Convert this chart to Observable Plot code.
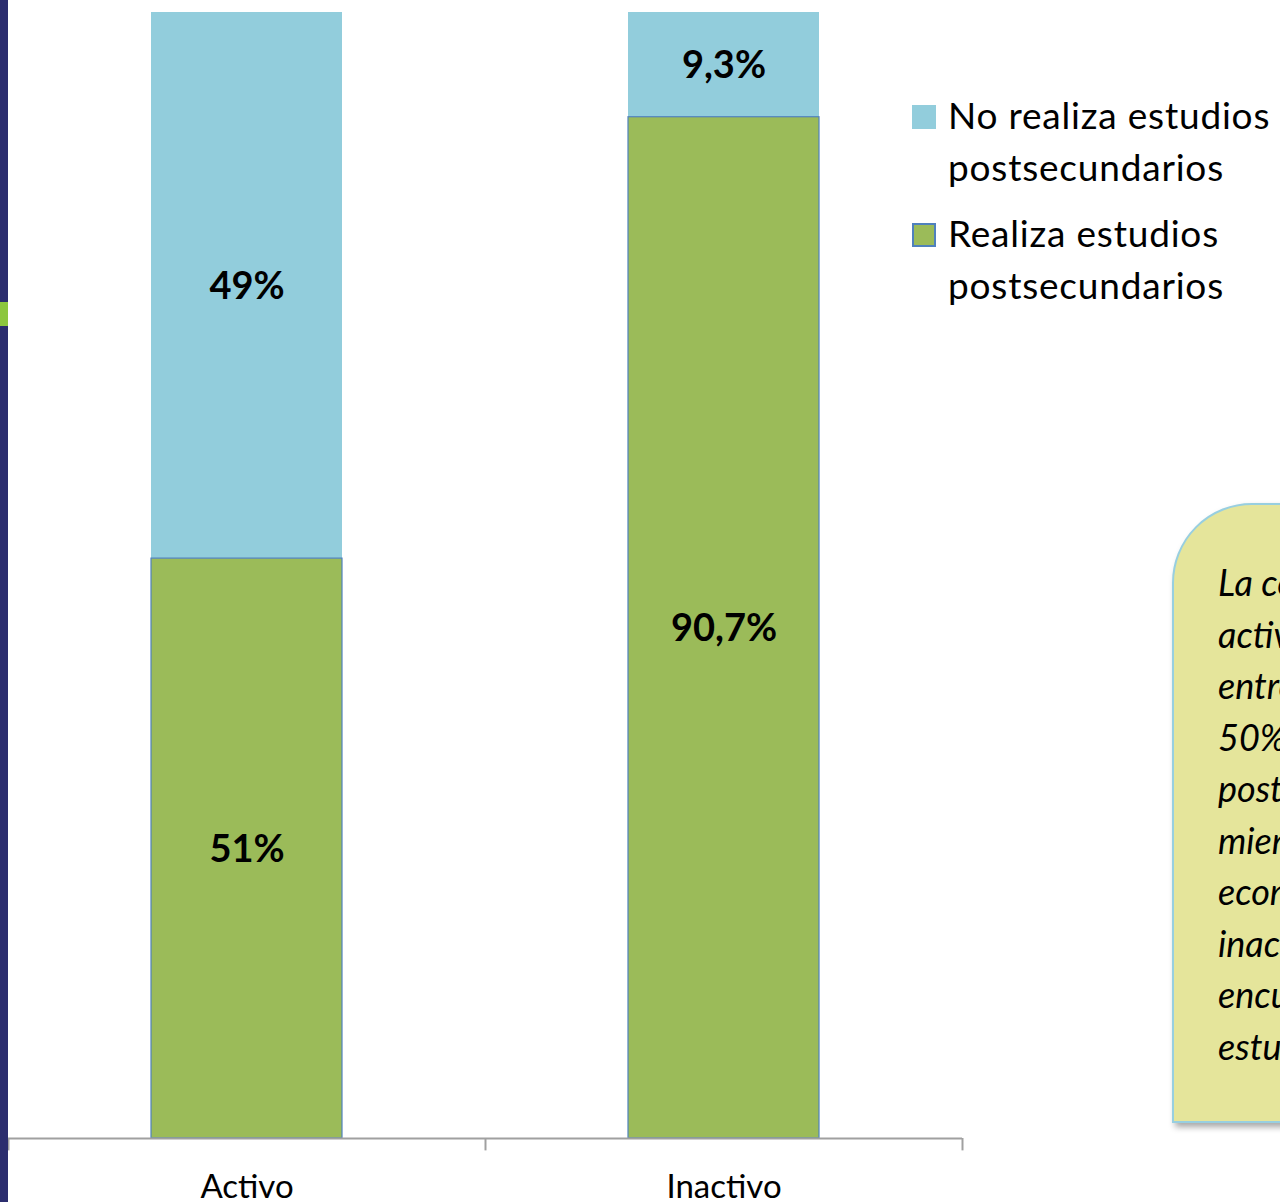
<!DOCTYPE html>
<html>
<head>
<meta charset="utf-8">
<script src="https://cdn.jsdelivr.net/npm/d3@7"></script>
<script src="https://cdn.jsdelivr.net/npm/@observablehq/plot@0.6"></script>
<style>
  html, body { margin: 0; padding: 0; background: #fff; }
  body { width: 1280px; height: 1202px; overflow: hidden; position: relative; font-family: Lato, "Open Sans", sans-serif; }
  #chart { position: absolute; left: 0; top: 0; }
  #strip { position: absolute; left: 0; top: 0; width: 8px; height: 1202px; background: #2b2d6e; }
  #strip .mark { position: absolute; left: 0; top: 302px; width: 8px; height: 24px; background: #8cc63f; }
  #legend { position: absolute; left: 912px; top: 89px; font-size: 37px; letter-spacing: 0.8px; line-height: 52px; color: #000; }
  #legend .item { position: relative; padding-left: 36px; margin-bottom: 14px; white-space: nowrap; }
  #legend .sw { position: absolute; left: 0; top: 16px; width: 24px; height: 24px; box-sizing: border-box; }
  #note { position: absolute; left: 1172px; top: 503px; width: 420px; height: 620px; box-sizing: border-box;
          background: #e5e59b; border: 2px solid #98cfe0; border-top-left-radius: 80px;
          box-shadow: 3px 4px 6px rgba(0,0,0,0.35); padding: 52px 0 0 44px; font-style: italic; font-size: 36px; line-height: 51.5px; white-space: nowrap; }
</style>
</head>
<body>
<div id="chart"></div>
<div id="strip"><div class="mark"></div></div>
<div id="legend"></div>
<div id="note"></div>
<script>
const categories = ["Activo", "Inactivo"];
const realiza = [51.5, 90.7];
const noRealiza = [48.5, 9.3];
const realizaLabels = ["51%", "90,7%"];
const noRealizaLabels = ["49%", "9,3%"];
const seriesNames = ["Realiza estudios postsecundarios", "No realiza estudios postsecundarios"];
const seriesColors = ["#9bbb59", "#92cddc"];
const noteLines = ["La condición de", "actividad establece", "entre los activos un", "50% realiza estudios", "postsecundarios,", "mientras que de los", "económicamente", "inactivos el 90,7% se", "encuentra realizando", "estudios."];

const data = [];
categories.forEach((c, i) => {
  data.push({cat: c, serie: seriesNames[0], value: realiza[i], label: realizaLabels[i]});
  data.push({cat: c, serie: seriesNames[1], value: noRealiza[i], label: noRealizaLabels[i]});
});

const W = 1280, H = 1202;
const mL = 8, mR = 318, mT = 12, mB = 64;
const step = (W - mL - mR) / categories.length;
const barW = 191;
const inset = (step - barW) / 2;

const chart = Plot.plot({
  width: W, height: H,
  marginLeft: mL, marginRight: mR, marginTop: mT, marginBottom: mB,
  style: {fontFamily: "Lato, 'Open Sans', sans-serif", background: "transparent"},
  x: {domain: categories, padding: 0, label: null},
  y: {domain: [0, 100], axis: null},
  color: {domain: seriesNames, range: seriesColors},
  marks: [
    Plot.barY(data, Plot.stackY({
      x: "cat", y: "value", fill: "serie", z: "serie", order: seriesNames,
      insetLeft: inset, insetRight: inset
    })),
    Plot.barY(data.filter(d => d.serie === seriesNames[0]), Plot.stackY({
      x: "cat", y: "value", fill: "none", stroke: "#4f81bd", strokeWidth: 1.2,
      insetLeft: inset, insetRight: inset
    })),
    Plot.text(data, Plot.stackY({
      x: "cat", y: "value", z: "serie", order: seriesNames, text: "label",
      fontSize: 38, fontWeight: "bold", fill: "#000", dy: 1
    })),
    Plot.ruleY([0], {stroke: "#a0a0a0", strokeWidth: 2}),
    Plot.ruleX(categories, {x: d => d, dx: -step / 2, y1: 0, y2: -1.1, stroke: "#a0a0a0", strokeWidth: 2}),
    Plot.ruleX(categories.slice(-1), {x: d => d, dx: step / 2, y1: 0, y2: -1.1, stroke: "#a0a0a0", strokeWidth: 2}),
    Plot.axisX({tickSize: 0, tickPadding: 36, fontSize: 33, label: null, fill: "#000"})
  ]
});
document.getElementById("chart").appendChild(chart);

const legend = document.getElementById("legend");
[1, 0].forEach(i => {
  const item = document.createElement("div");
  item.className = "item";
  const sw = document.createElement("div");
  sw.className = "sw";
  sw.style.background = seriesColors[i];
  if (i === 0) sw.style.border = "2px solid #4f81bd";
  item.appendChild(sw);
  const words = seriesNames[i].split(" ");
  const txt = document.createElement("div");
  txt.innerHTML = words.slice(0, -1).join(" ") + "<br>" + words[words.length - 1];
  item.appendChild(txt);
  legend.appendChild(item);
});

document.getElementById("note").innerHTML = noteLines.join("<br>");
</script>
</body>
</html>
